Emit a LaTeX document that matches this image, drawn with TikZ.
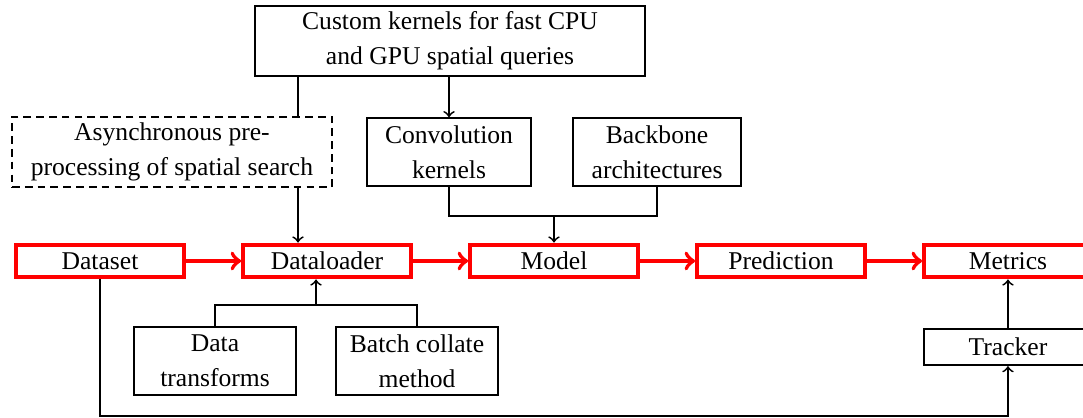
\documentclass[tikz,border=0pt]{standalone}
\usepackage{fontspec}
\setmainfont{Liberation Serif}
\usetikzlibrary{arrows,positioning}

\begin{document}
\begin{tikzpicture}[node distance=3.116cm,
	stage/.style={draw=red,line width=1.6pt,minimum width=2.3cm,minimum height=0.45cm,inner sep=1pt},
	block/.style={draw,line width=0.7pt,align=center,minimum height=0.93cm,inner sep=2pt,font=\linespread{1.14}\selectfont},
	flow/.style={->,red,line width=1.6pt},
	link/.style={line width=0.7pt}]
\useasboundingbox (-1.373,-2.142) rectangle (13.494,3.583);
% main pipeline
\node[stage] (ds) {Dataset};
\node[stage] (dl)[right of=ds] {Dataloader};
\node[stage] (mdl)[right of=dl] {Model};
\node[stage] (pred)[right of=mdl] {Prediction};
\node[stage] (met)[right of=pred] {Metrics};
\node[block,minimum width=2.3cm,minimum height=0.5cm] (trk)[below of=met,node distance=1.181cm] {Tracker};
% upper blocks
\node[block,minimum width=5.36cm,minimum height=0.97cm] (kern) at (4.805,3.020) {Custom kernels for fast CPU\\and GPU spatial queries};
\node[block,dash pattern=on 3pt off 2pt,minimum width=4.39cm,minimum height=0.97cm] (async) at (0.988,1.496) {Asynchronous pre-\\processing of spatial search};
\node[block,minimum width=2.25cm] (conv) at (4.791,1.496) {Convolution\\kernels};
\node[block,minimum width=2.3cm] (bb) at (7.647,1.496) {Backbone\\architectures};
% lower blocks
\node[block,minimum width=2.23cm] (tf) at (1.579,-1.373) {Data\\transforms};
\node[block,minimum width=2.23cm] (coll) at (4.352,-1.373) {Batch collate\\method};
\coordinate (tap) at (2.718,0);
\coordinate (mj) at (6.219,0.618);
\coordinate (dj) at (2.965,-0.604);
\coordinate (bot) at (0,-2.128);

\path[flow] (ds) edge (dl)
			(dl) edge (mdl)
			(mdl) edge (pred)
			(pred) edge (met);

\draw[link] (kern.south -| tap) -- (async.north -| tap);
\draw[link,->] (async.south -| tap) -- (dl.north -| tap);
\draw[link,->] (kern.south -| conv) -- (conv.north);
\draw[link] (conv.south) |- (mj) -| (bb.south);
\draw[link,->] (mdl.north |- mj) -- (mdl.north);
\draw[link] (tf.north) |- (dj) -| (coll.north);
\draw[link,->] (dj) -- (dl.south -| dj);
\draw[link,->] (ds.south) -- (bot) -| (trk.south);
\draw[link,->] (trk) -- (met);
\end{tikzpicture}
\end{document}
